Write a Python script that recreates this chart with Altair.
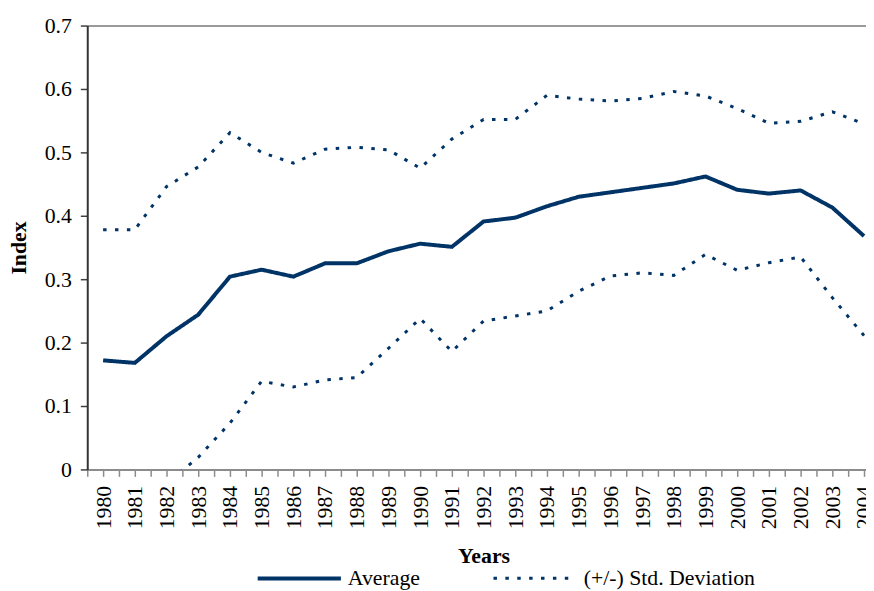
import altair as alt
import pandas as pd

years = list(range(1980, 2005))
average = [0.172, 0.168, 0.210, 0.244, 0.304, 0.315, 0.304, 0.325, 0.325, 0.344,
           0.356, 0.351, 0.391, 0.397, 0.415, 0.430, 0.437, 0.444, 0.451, 0.462,
           0.441, 0.435, 0.440, 0.413, 0.368]
upper = [0.378, 0.378, 0.446, 0.477, 0.531, 0.500, 0.483, 0.505, 0.508, 0.504,
         0.475, 0.521, 0.552, 0.552, 0.590, 0.584, 0.581, 0.585, 0.596, 0.589,
         0.569, 0.546, 0.549, 0.564, 0.545]
lower = [-0.034, -0.042, -0.022, 0.019, 0.073, 0.139, 0.130, 0.141, 0.145, 0.191,
         0.238, 0.186, 0.234, 0.242, 0.250, 0.281, 0.305, 0.310, 0.306, 0.339,
         0.314, 0.326, 0.335, 0.271, 0.211]
series_names = ["Average", "(+/-) Std. Deviation"]
y_ticks = [0, 0.1, 0.2, 0.3, 0.4, 0.5, 0.6, 0.7]
x_ticks = [1979.5 + 0.5 * k for k in range(50)]

rows = []
for i, yr in enumerate(years):
    rows.append({"year": yr, "value": average[i], "series": series_names[0], "line": "avg"})
    rows.append({"year": yr, "value": upper[i], "series": series_names[1], "line": "upper"})
    rows.append({"year": yr, "value": lower[i], "series": series_names[1], "line": "lower"})
df = pd.DataFrame(rows)

FONT = "Liberation Serif"
COLOR = "#003366"

legend_cfg = dict(
    title=None, orient="none", legendX=170, legendY=514, direction="horizontal",
    columns=2, columnPadding=68, symbolType="stroke", symbolSize=84 * 84,
    symbolStrokeColor=COLOR, labelFont=FONT, labelFontSize=22, labelColor="black",
    labelOffset=5, symbolFillColor=COLOR, labelLimit=400,
)

chart = alt.Chart(df).mark_line(clip=True, color=COLOR).encode(
    x=alt.X("year:Q",
            scale=alt.Scale(domain=[1979.5, 2004.0625], nice=False, zero=False),
            axis=alt.Axis(values=x_ticks,
                          labelExpr="datum.value % 1 == 0 ? format(datum.value, 'd') : ''",
                          labelAngle=270, labelPadding=9, labelFont=FONT, labelFontSize=22,
                          labelColor="black", tickSize=7, tickColor="#8c8c8c", tickWidth=1.5,
                          domainColor="#8c8c8c", domainWidth=2, grid=False,
                          title="Years", titleFont=FONT, titleFontSize=22, titleFontWeight="bold",
                          titleColor="black", titleX=400, titleY=94, titleBaseline="alphabetic",
                          titleAnchor="middle", titleAlign="center", labelOverlap=False,
                          labelBound=False, labelFlush=False)),
    y=alt.Y("value:Q",
            scale=alt.Scale(domain=[0, 0.7], nice=False, zero=False),
            axis=alt.Axis(values=y_ticks,
                          labelExpr="datum.value == 0 ? '0' : format(datum.value, '.1f')",
                          labelPadding=9, labelFont=FONT, labelFontSize=22, labelColor="black",
                          tickSize=7, tickColor="#404040", tickWidth=1.5,
                          domainColor="#333333", domainWidth=2,
                          grid=True, gridWidth=2,
                          gridColor={"condition": {"test": "datum.value > 0.65", "value": "#9a9a9a"},
                                     "value": "transparent"},
                          title="Index", titleFont=FONT, titleFontSize=22, titleFontWeight="bold",
                          titleColor="black", titleX=-62, titleY=224, titleAngle=270,
                          titleBaseline="alphabetic", titleAlign="center", labelOverlap=False)),
    detail="line:N",
    strokeDash=alt.StrokeDash("series:N",
                              scale=alt.Scale(domain=series_names, range=[[1, 0], [3.5, 8.5]]),
                              legend=alt.Legend(**legend_cfg)),
    strokeWidth=alt.StrokeWidth("series:N",
                                scale=alt.Scale(domain=series_names, range=[4, 3]),
                                legend=alt.Legend(**legend_cfg)),
).properties(
    width=786, height=448,
    autosize=alt.AutoSizeParams(type="none"),
    padding={"left": 80, "top": 15, "right": 0, "bottom": 120},
    background="white",
).configure_view(stroke=None)

chart.save("out.html", embed_options={"renderer": "svg", "actions": False})
